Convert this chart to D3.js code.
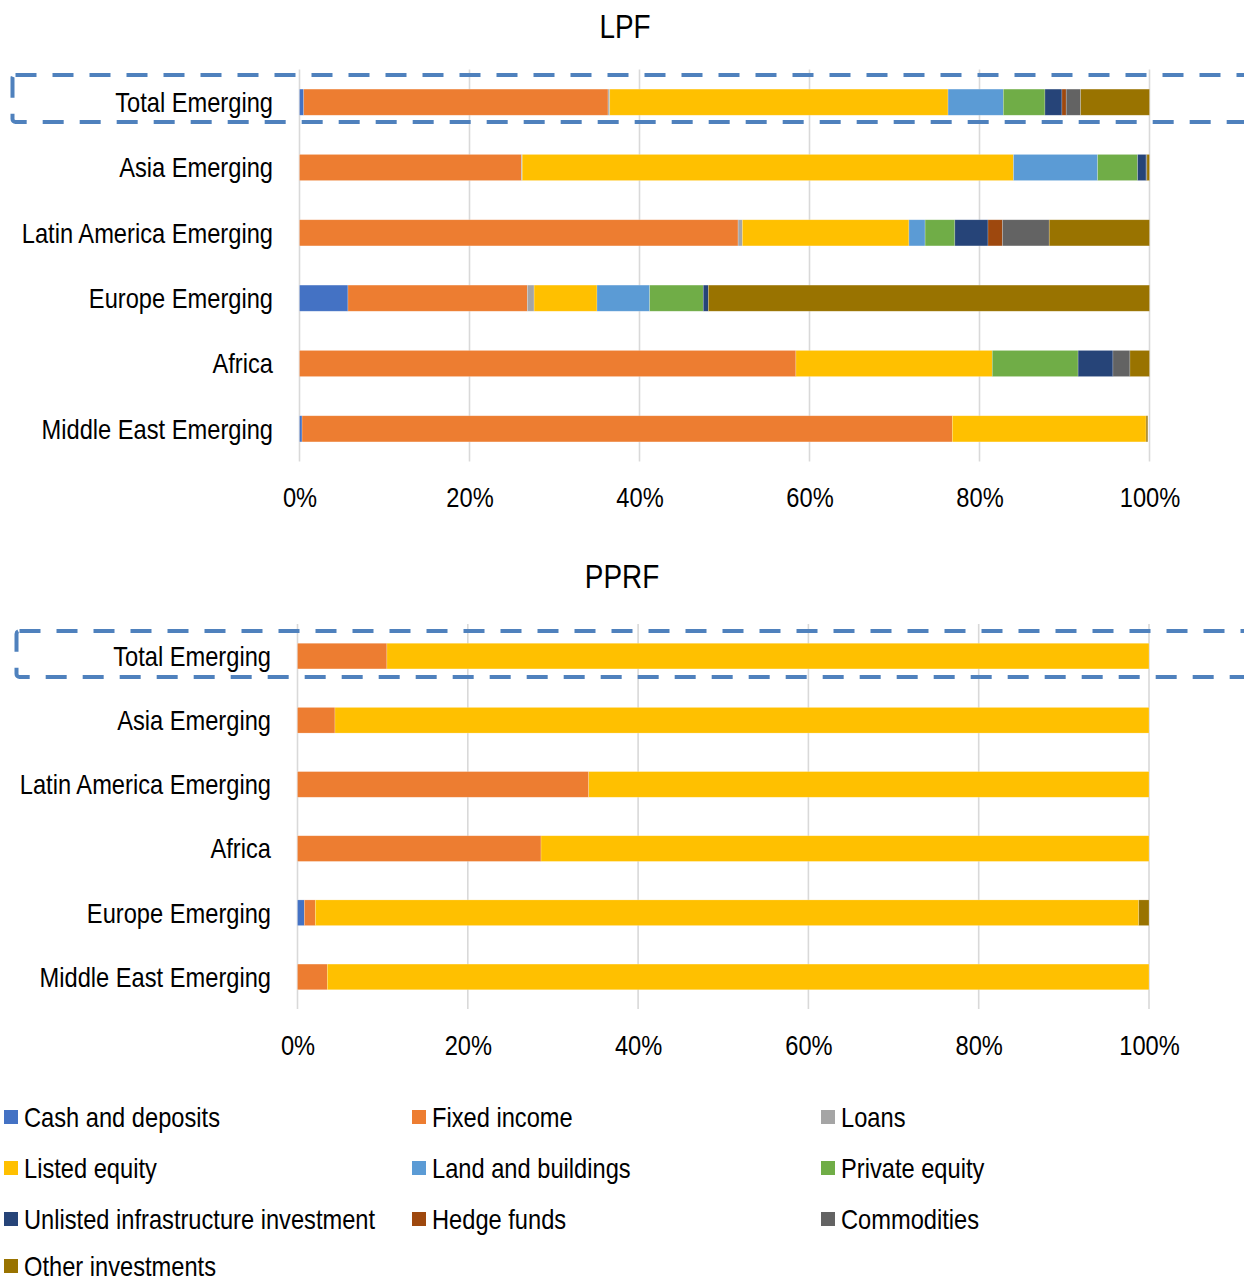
<!DOCTYPE html>
<html>
<head>
<meta charset="utf-8">
<script src="https://cdn.jsdelivr.net/npm/d3@7"></script>
<style>
  html, body { margin: 0; padding: 0; background: #fff; }
  svg text { font-family: "Liberation Sans", Arial, sans-serif; fill: #000; }
</style>
</head>
<body>
<svg id="chart" width="1244" height="1283"></svg>
<script>
// ---------- DATA ----------
const assetClasses = ["Cash and deposits","Fixed income","Loans","Listed equity","Land and buildings",
  "Private equity","Unlisted infrastructure investment","Hedge funds","Commodities","Other investments"];
const assetColors = ["#4472C4","#ED7D31","#A5A5A5","#FFC000","#5B9BD5",
  "#70AD47","#264478","#9E480E","#636363","#997300"];
const tickValues = [0, 20, 40, 60, 80, 100];

// LPF
const lpfCategories = ["Total Emerging","Asia Emerging","Latin America Emerging","Europe Emerging","Africa","Middle East Emerging"];
const lpfCash        = [0.5, 0.0, 0.0, 5.7, 0.0, 0.3];
const lpfFixedIncome = [35.8, 26.1, 51.6, 21.1, 58.4, 76.5];
const lpfLoans       = [0.2, 0.1, 0.5, 0.8, 0.0, 0.0];
const lpfListedEq    = [39.8, 57.8, 19.6, 7.4, 23.1, 22.8];
const lpfLand        = [6.5, 9.9, 1.9, 6.2, 0.0, 0.0];
const lpfPrivateEq   = [4.9, 4.7, 3.5, 6.3, 10.1, 0.0];
const lpfInfra       = [2.0, 1.0, 3.9, 0.6, 4.1, 0.0];
const lpfHedge       = [0.5, 0.0, 1.7, 0.0, 0.0, 0.0];
const lpfCommod      = [1.7, 0.1, 5.5, 0.0, 2.0, 0.0];
const lpfOther       = [8.1, 0.3, 11.8, 51.9, 2.3, 0.2];

// PPRF
const pprfCategories = ["Total Emerging","Asia Emerging","Latin America Emerging","Africa","Europe Emerging","Middle East Emerging"];
const pprfCash        = [0, 0, 0, 0, 0.8, 0];
const pprfFixedIncome = [10.5, 4.4, 34.2, 28.6, 1.3, 3.5];
const pprfLoans       = [0, 0, 0, 0, 0, 0];
const pprfListedEq    = [89.5, 95.6, 65.8, 71.4, 96.7, 96.5];
const pprfLand        = [0, 0, 0, 0, 0, 0];
const pprfPrivateEq   = [0, 0, 0, 0, 0, 0];
const pprfInfra       = [0, 0, 0, 0, 0, 0];
const pprfHedge       = [0, 0, 0, 0, 0, 0];
const pprfCommod      = [0, 0, 0, 0, 0, 0];
const pprfOther       = [0, 0, 0, 0, 1.2, 0];

// ---------- BUILD ----------
function buildRows(categories, seriesList) {
  return categories.map((c, i) => {
    const row = { category: c };
    assetClasses.forEach((a, k) => { row[a] = seriesList[k][i]; });
    return row;
  });
}
const lpfRows = buildRows(lpfCategories, [lpfCash, lpfFixedIncome, lpfLoans, lpfListedEq, lpfLand, lpfPrivateEq, lpfInfra, lpfHedge, lpfCommod, lpfOther]);
const pprfRows = buildRows(pprfCategories, [pprfCash, pprfFixedIncome, pprfLoans, pprfListedEq, pprfLand, pprfPrivateEq, pprfInfra, pprfHedge, pprfCommod, pprfOther]);

const svg = d3.select("#chart");
const color = d3.scaleOrdinal().domain(assetClasses).range(assetColors);
const FONT = 28;
const TITLE_FONT = 33;
const SQUEEZE = 0.845; // emulate a narrow sans face

function drawPanel(opt) {
  const { rows, categories, title, titleX, titleY, x0, x1, y0, y1, labelRight, tickY, box } = opt;
  const g = svg.append("g");
  const x = d3.scaleLinear().domain([0, 100]).range([x0, x1]);
  const y = d3.scaleBand().domain(categories).range([y0, y1]).paddingInner(0.6).paddingOuter(0.3);

  // title
  g.append("text").attr("x", titleX).attr("y", titleY).attr("text-anchor", "middle")
    .attr("font-size", TITLE_FONT).text(title);

  // gridlines
  g.append("g").selectAll("line").data(tickValues).join("line")
    .attr("x1", d => x(d)).attr("x2", d => x(d))
    .attr("y1", y0).attr("y2", y1)
    .attr("stroke", "#d9d9d9").attr("stroke-width", 1.6);

  // stacked bars
  const stack = d3.stack().keys(assetClasses);
  const series = stack(rows);
  g.append("g").selectAll("g").data(series).join("g")
    .attr("fill", d => color(d.key))
    .selectAll("rect").data(d => d.filter(p => p[1] - p[0] > 0)).join("rect")
      .attr("x", p => x(p[0]))
      .attr("width", p => x(p[1]) - x(p[0]))
      .attr("y", p => y(p.data.category))
      .attr("height", y.bandwidth())
      .attr("stroke", "#ffffff").attr("stroke-opacity", 0.35).attr("stroke-width", 0.6);

  // category labels
  g.append("g").selectAll("text").data(categories).join("text")
    .attr("x", labelRight).attr("y", d => y(d) + y.bandwidth() / 2)
    .attr("dy", "0.35em").attr("text-anchor", "end").attr("font-size", FONT).text(d => d);

  // x axis labels
  const axis = d3.axisBottom(x).tickValues(tickValues).tickFormat(d => d + "%").tickSize(0).tickPadding(0);
  const ag = g.append("g").attr("transform", `translate(0,${tickY})`).call(axis);
  ag.select(".domain").remove();
  ag.attr("font-family", null).attr("font-size", null);
  ag.selectAll("text").attr("font-size", FONT).attr("dy", "0.35em").attr("y", 0).attr("text-anchor", "middle");

  // dashed highlight box
  g.append("rect").attr("x", box.x).attr("y", box.y).attr("width", box.w).attr("height", box.h)
    .attr("rx", 3).attr("fill", "none").attr("stroke", "#4F81BD").attr("stroke-width", 4)
    .attr("stroke-dasharray", "21 16");
}

drawPanel({
  rows: lpfRows, categories: lpfCategories, title: "LPF", titleX: 625, titleY: 38,
  x0: 299.5, x1: 1149.5, y0: 69.5, y1: 461.5, labelRight: 273, tickY: 497,
  box: { x: 12.5, y: 75, w: 1300, h: 47 }
});
drawPanel({
  rows: pprfRows, categories: pprfCategories, title: "PPRF", titleX: 622, titleY: 588,
  x0: 297.5, x1: 1149, y0: 624, y1: 1009, labelRight: 271, tickY: 1045,
  box: { x: 16.5, y: 631, w: 1300, h: 46 }
});

// legend
const legendCols = [4, 412, 821];
const legendRows = [1117, 1168, 1219, 1266];
const lg = svg.append("g").selectAll("g").data(assetClasses).join("g")
  .attr("transform", (d, i) => `translate(${legendCols[i % 3]},${legendRows[Math.floor(i / 3)]})`);
lg.append("rect").attr("x", 0).attr("y", -7).attr("width", 14).attr("height", 14).attr("fill", d => color(d));
lg.append("text").attr("x", 20).attr("y", 0).attr("dy", "0.35em").attr("font-size", FONT).text(d => d);

// condense all text horizontally (narrow face emulation)
svg.selectAll("text").each(function () {
  const w = this.getComputedTextLength();
  d3.select(this).attr("textLength", w * SQUEEZE).attr("lengthAdjust", "spacingAndGlyphs");
});
</script>
</body>
</html>
